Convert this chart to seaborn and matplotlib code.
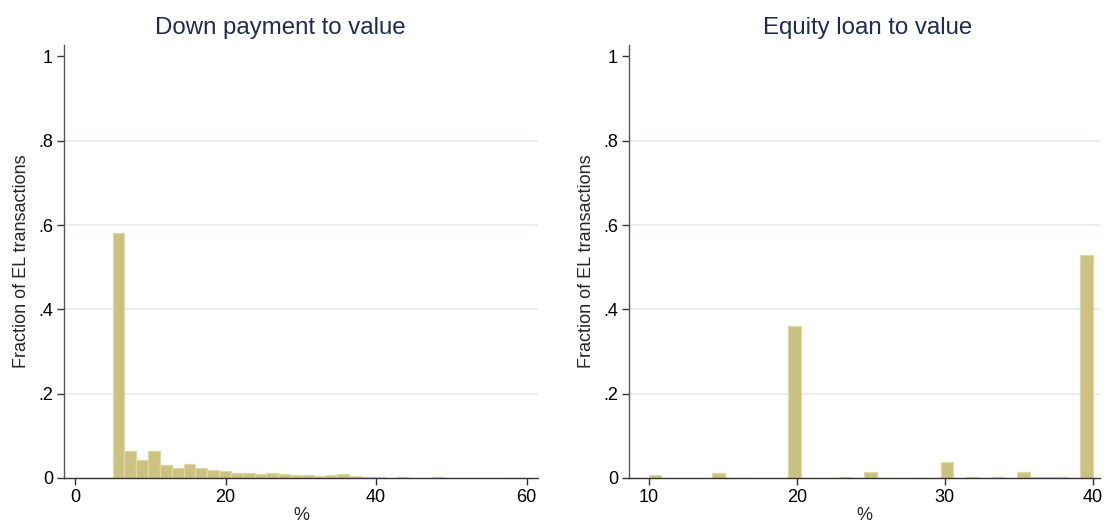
import numpy as np
import pandas as pd
import matplotlib
matplotlib.use("Agg")
import matplotlib.pyplot as plt
import seaborn as sns

# Histogram fractions per bin (35 equal-width bins per panel)
dp_range = (5, 60)
dp_fraction = [0.581, 0.064, 0.0436, 0.064, 0.032, 0.0245, 0.034, 0.023, 0.019,
               0.016, 0.013, 0.011, 0.0087, 0.011, 0.0087, 0.0079, 0.0079,
               0.0055, 0.006, 0.0087, 0.004, 0.003, 0.003, 0.001, 0.003, 0.001,
               0.001, 0.002, 0.001, 0.001, 0.001, 0.001, 0.0005, 0.0, 0.0003]

el_range = (10, 40)
el_fraction = [0.008, 0.0, 0.001, 0.001, 0.001, 0.011, 0.001, 0.0, 0.001,
               0.001, 0.001, 0.361, 0.0005, 0.0005, 0.0005, 0.002, 0.0005,
               0.015, 0.0005, 0.0005, 0.0005, 0.0, 0.001, 0.038, 0.001, 0.002,
               0.001, 0.002, 0.001, 0.0135, 0.002, 0.002, 0.003, 0.001, 0.529]

titles = ["Down payment to value", "Equity loan to value"]
x_ticks = [[0, 20, 40, 60], [10, 20, 30, 40]]
y_ticks = [0, 0.2, 0.4, 0.6, 0.8, 1.0]
y_ticklabels = ["0", ".2", ".4", ".6", ".8", "1"]
y_label = "Fraction of EL transactions"
x_label = "%"

sns.set_style("white")
plt.rcParams["font.family"] = ["Liberation Sans", "DejaVu Sans"]

BAR = "#cbc281"
EDGE = "#ddd8a8"
GRID = "#e8eff1"
TITLE = "#1e2c55"

fig = plt.figure(figsize=(11.06, 5.27), dpi=100)
W, H = 1106, 527
ax1 = fig.add_axes([64 / W, 49 / H, 474 / W, 433 / H])
ax2 = fig.add_axes([629 / W, 49 / H, 471 / W, 433 / H])

panels = [
    (ax1, dp_range, dp_fraction, (-1.46, 61.5), 0.457),
    (ax2, el_range, el_fraction, (8.68, 40.47), 0.506),
]

for i, (ax, rng, frac, xlim, title_x) in enumerate(panels):
    n = len(frac)
    width = (rng[1] - rng[0]) / n
    df = pd.DataFrame({
        "value": rng[0] + width * (np.arange(n) + 0.5),
        "fraction": frac,
    })
    for g in [0.2, 0.4, 0.6, 0.8]:
        ax.axhline(g, color=GRID, lw=1.5, zorder=0)
    sns.histplot(data=df, x="value", weights="fraction", bins=n,
                 binrange=rng, stat="count", color=BAR, edgecolor=EDGE,
                 linewidth=0.9, alpha=1, ax=ax)
    for p in ax.patches:
        p.set_zorder(2)
        if p.get_height() == 0:
            p.set_visible(False)
    ax.set_xlim(*xlim)
    ax.set_ylim(0, 1.027)
    ax.set_xticks(x_ticks[i])
    ax.set_xticklabels([str(t) for t in x_ticks[i]])
    ax.set_yticks(y_ticks)
    ax.set_yticklabels(y_ticklabels)
    ax.tick_params(axis="both", labelsize=13, length=5, width=1,
                   color="#333333", labelcolor="black", pad=3,
                   bottom=True, left=True, direction="out")
    ax.grid(False)
    for s in ["top", "right"]:
        ax.spines[s].set_visible(False)
    ax.spines["left"].set_color("#555555")
    ax.spines["bottom"].set_color("#333333")
    ax.spines["left"].set_linewidth(1.0)
    ax.spines["bottom"].set_linewidth(1.0)
    t = ax.set_title(titles[i], fontsize=17.3, color=TITLE, pad=8)
    t.set_x(title_x)
    ax.set_ylabel(y_label, fontsize=13, labelpad=6)
    ax.set_xlabel(x_label, fontsize=13, labelpad=1)

fig.savefig("out.png", dpi=100, facecolor="white")
